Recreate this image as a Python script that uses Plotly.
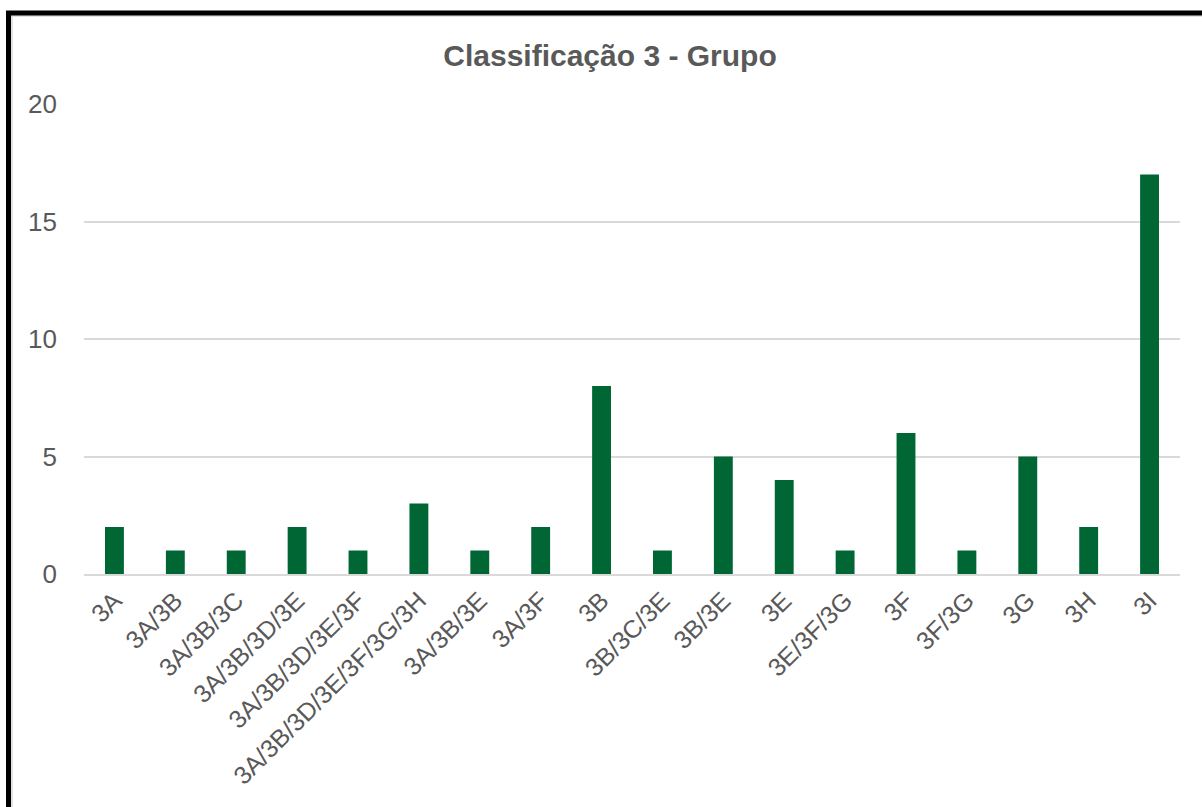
import plotly.graph_objects as go

# Counts per group of classification 3
categories = [
    "3A", "3A/3B", "3A/3B/3C", "3A/3B/3D/3E", "3A/3B/3D/3E/3F",
    "3A/3B/3D/3E/3F/3G/3H", "3A/3B/3E", "3A/3F", "3B", "3B/3C/3E",
    "3B/3E", "3E", "3E/3F/3G", "3F", "3F/3G", "3G", "3H", "3I",
]
counts = [2, 1, 1, 2, 1, 3, 1, 2, 8, 1, 5, 4, 1, 6, 1, 5, 2, 17]
y_ticks = [0, 5, 10, 15, 20]

W, H = 1202, 807
ML, MR, MT, MB = 84, 22, 104, 233
plot_w = W - ML - MR
plot_h = H - MT - MB

TEXT = "#595959"
GRID = "#d9d9d9"
BAR = "#006633"
FONT = "Liberation Sans, Arial, sans-serif"


def px_x(px):
    return (px - ML) / plot_w


def px_y(py):
    return (H - MB - py) / plot_h


fig = go.Figure(
    go.Bar(
        x=categories,
        y=counts,
        marker=dict(color=BAR, line=dict(width=0)),
    )
)

fig.update_layout(
    width=W,
    height=H,
    margin=dict(l=ML, r=MR, t=MT, b=MB, pad=0),
    paper_bgcolor="white",
    plot_bgcolor="white",
    bargap=0.69,
    showlegend=False,
    font=dict(family=FONT, color=TEXT, size=24),
    title=dict(
        text="<b>Classificação 3 - Grupo</b>",
        x=610 / W,
        xref="container",
        y=1 - 55 / H,
        yref="container",
        xanchor="center",
        yanchor="middle",
        font=dict(family=FONT, size=30, color=TEXT),
    ),
    xaxis=dict(
        type="category",
        tickangle=-45,
        tickfont=dict(size=25, color=TEXT),
        showgrid=False,
        showline=True,
        linecolor=GRID,
        linewidth=2,
        ticks="",
    ),
    yaxis=dict(
        range=[0, 20],
        tickvals=y_ticks,
        tickfont=dict(size=26, color=TEXT),
        showgrid=True,
        gridcolor=GRID,
        gridwidth=1.5,
        zeroline=False,
        showline=False,
        ticks="",
        ticklabelstandoff=26,
    ),
    shapes=[
        # light chart-area outline
        dict(type="line", xref="paper", yref="paper",
             x0=px_x(12), x1=px_x(12), y0=px_y(15), y1=px_y(H + 5),
             line=dict(color="#d9d9d9", width=1.5)),
        dict(type="line", xref="paper", yref="paper",
             x0=px_x(10), x1=px_x(W + 5), y0=px_y(16), y1=px_y(16),
             line=dict(color="#d9d9d9", width=1.5)),
        # dark frame on the left and top edges
        dict(type="line", xref="paper", yref="paper",
             x0=px_x(8.5), x1=px_x(8.5), y0=px_y(11), y1=px_y(H + 5),
             line=dict(color="black", width=5)),
        dict(type="line", xref="paper", yref="paper",
             x0=px_x(6), x1=px_x(W + 5), y0=px_y(13), y1=px_y(13),
             line=dict(color="black", width=5)),
    ],
)

fig.write_html("out.html")
